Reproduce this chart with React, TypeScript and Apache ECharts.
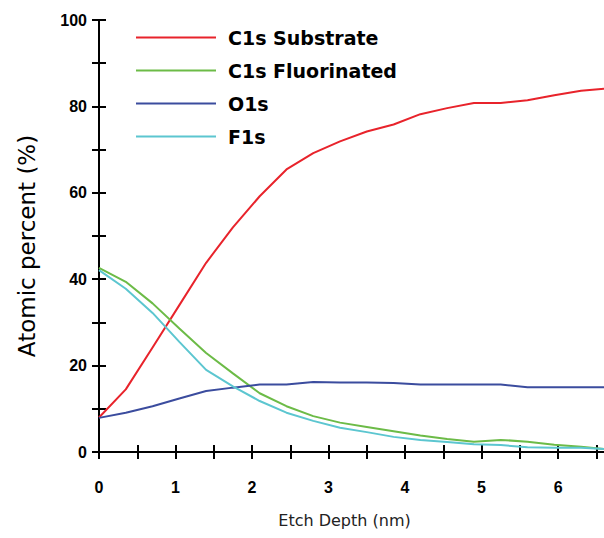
import React, { useEffect, useRef } from "react";
import * as echarts from "echarts";

const depths = [0, 0.35, 0.7, 1.05, 1.4, 1.75, 2.1, 2.45, 2.8, 3.15, 3.5, 3.85, 4.2, 4.55, 4.9, 5.25, 5.6, 5.95, 6.3, 6.6];
const c1sSubstrate = [8.0, 14.5, 24.2, 34.0, 43.8, 52.0, 59.2, 65.4, 69.2, 71.9, 74.2, 75.8, 78.2, 79.6, 80.8, 80.8, 81.4, 82.6, 83.6, 84.1];
const c1sFluorinated = [42.6, 39.4, 34.4, 28.6, 22.9, 18.2, 13.6, 10.6, 8.3, 6.8, 5.8, 4.8, 3.8, 3.0, 2.4, 2.8, 2.4, 1.7, 1.2, 0.7];
const o1s = [7.9, 9.1, 10.6, 12.4, 14.1, 14.9, 15.6, 15.6, 16.2, 16.1, 16.1, 16.0, 15.6, 15.6, 15.6, 15.6, 15.0, 15.0, 15.0, 15.0];
const f1s = [42.1, 37.8, 32.2, 25.5, 19.0, 15.2, 11.8, 9.1, 7.2, 5.6, 4.6, 3.5, 2.8, 2.3, 1.8, 1.6, 1.1, 1.0, 1.0, 0.7];

const seriesNames = ["C1s Substrate", "C1s Fluorinated", "O1s", "F1s"];
const seriesColors = ["#e8232b", "#6cbb47", "#3b4c9e", "#5cc6d0"];
const seriesValues = [c1sSubstrate, c1sFluorinated, o1s, f1s];

const xTicks = [0, 0.5, 1, 1.5, 2, 2.5, 3, 3.5, 4, 4.5, 5, 5.5, 6, 6.5];
const xLabels = [0, 1, 2, 3, 4, 5, 6];
const yTicks = [0, 10, 20, 30, 40, 50, 60, 70, 80, 90, 100];
const yLabels = [0, 20, 40, 60, 80, 100];

const xMin = 0;
const xMax = 6.6;
const yMin = 0;
const yMax = 100;

export default function App() {
  const ref = useRef<HTMLDivElement>(null);
  useEffect(() => {
    if (!ref.current) return;
    const chart = echarts.init(ref.current, undefined, { renderer: "svg" });
    const tickLine = { lineStyle: { color: "#000", width: 2 } };
    const labelStyle = {
      color: "#000",
      fontFamily: "Liberation Sans",
      fontSize: 16,
      fontWeight: "bold" as const,
    };
    chart.setOption({
      animation: false,
      backgroundColor: "#fff",
      grid: { left: 99, right: 0, top: 20, bottom: 86 },
      legend: {
        orient: "vertical",
        left: 130,
        top: 23,
        itemWidth: 80,
        itemHeight: 20,
        itemGap: 14,
        data: seriesNames,
        itemStyle: { opacity: 0 },
        textStyle: {
          color: "#000",
          fontFamily: "DejaVu Sans",
          fontWeight: "bold",
          fontSize: 19,
          padding: [0, 0, 0, 7],
        },
      },
      xAxis: [
        {
          type: "value",
          min: xMin,
          max: xMax,
          name: "Etch Depth (nm)",
          nameLocation: "middle",
          nameGap: 60,
          nameTextStyle: {
            color: "#222",
            fontFamily: "DejaVu Sans",
            fontSize: 16,
            padding: [0, 14, 0, 0],
          },
          axisLine: { show: true, onZero: false, lineStyle: { color: "#000", width: 2 } },
          axisTick: { show: true, length: 7, customValues: xTicks, ...tickLine },
          axisLabel: { ...labelStyle, margin: 27, customValues: xLabels },
          splitLine: { show: false },
        },
        {
          type: "value",
          min: xMin,
          max: xMax,
          position: "bottom",
          axisLine: { show: false },
          axisTick: { show: true, inside: true, length: 7, customValues: xTicks, ...tickLine },
          axisLabel: { show: false },
          splitLine: { show: false },
        },
      ],
      yAxis: [
        {
          type: "value",
          min: yMin,
          max: yMax,
          name: "Atomic percent (%)",
          nameLocation: "middle",
          nameGap: 61,
          nameTextStyle: {
            color: "#000",
            fontFamily: "DejaVu Sans",
            fontSize: 23,
            padding: [0, 20, 0, 0],
          },
          axisLine: { show: true, onZero: false, lineStyle: { color: "#000", width: 2 } },
          axisTick: { show: true, length: 7, customValues: yTicks, ...tickLine },
          axisLabel: { ...labelStyle, margin: 12, customValues: yLabels },
          splitLine: { show: false },
        },
        {
          type: "value",
          min: yMin,
          max: yMax,
          position: "left",
          axisLine: { show: false },
          axisTick: { show: true, inside: true, length: 7, customValues: yTicks, ...tickLine },
          axisLabel: { show: false },
          splitLine: { show: false },
        },
      ],
      series: seriesNames.map((name, i) => ({
        name,
        type: "line",
        xAxisIndex: 0,
        yAxisIndex: 0,
        symbol: "none",
        color: seriesColors[i],
        lineStyle: { color: seriesColors[i], width: 2 },
        data: depths.map((d, j) => [d, seriesValues[i][j]]),
      })),
    });
    return () => chart.dispose();
  }, []);
  return (
    <div
      ref={ref}
      style={{ position: "fixed", left: 0, top: 0, width: 604, height: 538 }}
    />
  );
}
